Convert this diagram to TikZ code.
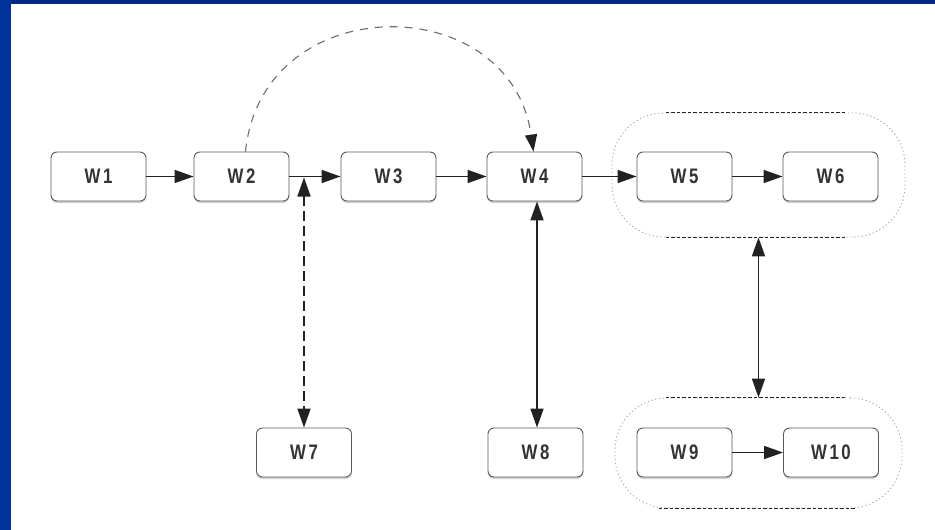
\documentclass[tikz,border=0pt]{standalone}
\usepackage{fontspec}
\usetikzlibrary{arrows.meta,shadows}
\newfontfamily\lblfont{Liberation Sans}[FakeStretch=0.8,LetterSpace=12]
\definecolor{bandtop}{RGB}{0,42,130}
\definecolor{bandleft}{RGB}{0,51,153}
\definecolor{ink}{RGB}{34,34,34}
\begin{document}
\begin{tikzpicture}[x=1pt,y=-1pt,
  >={Triangle[length=19pt,width=13pt]},
  wbox/.style={draw=gray!70!black, line width=0.9pt, rounded corners=6pt,
    fill=white, minimum width=95pt, minimum height=49pt, inner sep=0pt,
    font=\lblfont\bfseries\fontsize{21}{21}\selectfont, text=black!80,
    drop shadow={shadow xshift=0pt, shadow yshift=-2pt, fill=gray!35, opacity=1}},
  flow/.style={draw=ink, line width=1.7pt, ->},
  twoway/.style={draw=ink, line width=1.7pt, <->},
  dashlink/.style={draw=ink, line width=1.6pt, dash pattern=on 10pt off 5pt, <->},
  jump/.style={draw=gray!85!black, line width=1.1pt, dash pattern=on 8pt off 7pt,
    -{Triangle[length=17pt,width=12pt,color=ink,fill=ink]}},
  grp/.style={draw=gray!70, line width=0.9pt, dash pattern=on 1.2pt off 2.6pt,
    rounded corners=52pt, inner sep=0pt},
  grpedge/.style={draw=black!85, line width=1.5pt, dash pattern=on 3.5pt off 2pt}]

\path[use as bounding box] (0,0) rectangle (935,530);
\fill[white] (0,0) rectangle (935,530);
\fill[bandtop] (0,0) rectangle (935,4);
\fill[bandleft] (0,0) rectangle (11,530);

% grouped stages
\node[grp, minimum width=293pt, minimum height=124pt] (g1) at (758.5,175) {};
\node[grp, minimum width=287pt, minimum height=110pt] (g2) at (758.5,453) {};
\draw[grpedge] ([xshift=-93pt]g1.north) -- ([xshift=88pt]g1.north);
\draw[grpedge] ([xshift=-93pt]g1.south) -- ([xshift=88pt]g1.south);
\draw[grpedge] ([xshift=-93pt]g2.north) -- ([xshift=88pt]g2.north);
\draw[grpedge] ([xshift=-100pt]g2.south) -- ([xshift=98pt]g2.south);

% stages
\node[wbox] (w1) at (98.5,176.5) {W1};
\node[wbox] (w2) at (241.5,176.5) {W2};
\node[wbox] (w3) at (388.5,176.5) {W3};
\node[wbox] (w4) at (534.5,176.5) {W4};
\node[wbox] (w5) at (684.5,176.5) {W5};
\node[wbox] (w6) at (830.5,176.5) {W6};
\node[wbox] (w7) at (304,452.5) {W7};
\node[wbox] (w8) at (535.5,452.5) {W8};
\node[wbox] (w9) at (684.5,452.5) {W9};
\node[wbox] (w10) at (831,452.5) {W10};

% main flow
\draw[flow] (w1) -- (w2);
\draw[flow] (w2) -- (w3);
\draw[flow] (w3) -- (w4);
\draw[flow] (w4) -- (w5);
\draw[flow] (w5) -- (w6);
\draw[flow] (w9) -- (w10);

% links
\coordinate (j) at (w7.north |- w2.east);
\draw[dashlink, shorten <=1pt] (j) -- (w7.north);
\draw[twoway] ([xshift=2.5pt]w4.south) -- ([xshift=1.5pt]w8.north);
\draw[twoway] (g1.south) -- (g2.north);
\draw[jump] ([xshift=4pt]w2.north) .. controls (262,-12) and (510,-12) .. ([xshift=-1pt]w4.north);
\end{tikzpicture}
\end{document}
